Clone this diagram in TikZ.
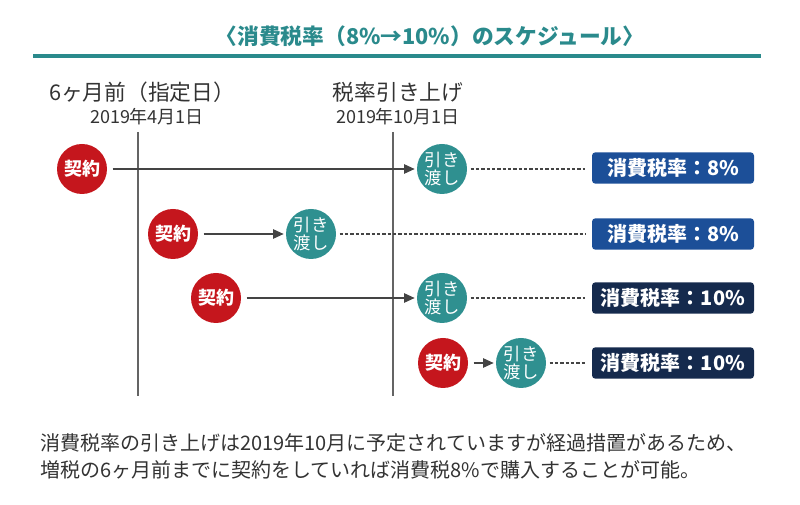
\documentclass[tikz,border=0pt]{standalone}
\usepackage{fontspec}
\setmainfont{Noto Sans CJK JP}
\usetikzlibrary{arrows.meta}
\definecolor{ctitle}{RGB}{42,138,140}
\definecolor{cteal}{RGB}{47,144,144}
\definecolor{cred}{RGB}{197,22,29}
\definecolor{cblue}{RGB}{28,79,152}
\definecolor{cnavy}{RGB}{21,42,77}
\definecolor{ctext}{RGB}{51,51,51}
\definecolor{cline}{RGB}{100,100,100}
\definecolor{carrow}{RGB}{68,68,68}
\begin{document}
\begin{tikzpicture}[x=0.75pt,y=-0.75pt,
  keiyaku/.style={circle,fill=cred,minimum size=37.5pt,inner sep=0,text=white,font=\bfseries\fontsize{13.5}{14}\selectfont},
  hiki/.style={circle,fill=cteal,minimum size=37.5pt,inner sep=0,text=white,align=center,font=\fontsize{13}{14}\selectfont},
  rate/.style={rounded corners=2.5pt,minimum width=121.5pt,minimum height=23.5pt,inner sep=0,text=white,font=\bfseries\fontsize{15}{16}\selectfont},
  arr/.style={-{Triangle[length=8pt,width=7pt]},draw=carrow,line width=1.1pt,shorten <=4pt,shorten >=1.5pt},
  dotline/.style={draw=carrow,dash pattern=on 2.5pt off 1.5pt,line width=0.8pt,shorten <=2.5pt,shorten >=5pt},
  vline/.style={draw=cline,line width=1pt},
  head/.style={text=ctext,inner sep=0,font=\fontsize{16.3}{18}\selectfont},
  date/.style={text=ctext,inner sep=0,font=\fontsize{13.5}{15}\selectfont},
  body/.style={text=ctext,inner sep=0,anchor=west,font=\fontsize{15}{17}\selectfont}]
\useasboundingbox (0,0) rectangle (800,505);
% title
\node[text=ctitle,inner sep=0,font=\bfseries\fontsize{16.3}{18}\selectfont] (title) at (430,36) {〈消費税率（8\%→10\%）のスケジュール〉};
\coordinate (tl) at (33,56);
\coordinate (tr) at (761,56);
\draw[ctitle,line width=2.5pt] (tl) -- (tr);
% headers
\node[head] (h6) at (142,92) {6ヶ月前（指定日）};
\node[date] (d6) at (147,117) {2019年4月1日};
\node[head] (hup) at (398,92) {税率引き上げ};
\node[date] (dup) at (398,117) {2019年10月1日};
% vertical lines
\coordinate (va) at (138,132);
\coordinate (vb) at (138,396);
\coordinate (wa) at (393,132);
\coordinate (wb) at (393,396);
\draw[vline] (va) -- (vb);
\draw[vline] (wa) -- (wb);
% row 1
\node[keiyaku] (k1) at (82,169) {契約};
\node[hiki] (h1) at (442,169) {引き\\渡し};
\node[rate,fill=cblue] (r1) at (673,168) {消費税率：8\%};
\draw[arr] (k1) -- (h1);
\draw[dotline] (h1) -- (h1 -| r1.west);
% row 2
\node[keiyaku] (k2) at (173,234) {契約};
\node[hiki] (h2) at (311,234) {引き\\渡し};
\node[rate,fill=cblue] (r2) at (673,234) {消費税率：8\%};
\draw[arr] (k2) -- (h2);
\draw[dotline] (h2) -- (h2 -| r2.west);
% row 3
\node[keiyaku] (k3) at (216,298) {契約};
\node[hiki] (h3) at (442,298) {引き\\渡し};
\node[rate,fill=cnavy] (r3) at (673,298) {消費税率：10\%};
\draw[arr] (k3) -- (h3);
\draw[dotline] (h3) -- (h3 -| r3.west);
% row 4
\node[keiyaku] (k4) at (443,363) {契約};
\node[hiki] (h4) at (521,363) {引き\\渡し};
\node[rate,fill=cnavy] (r4) at (673,363) {消費税率：10\%};
\draw[arr] (k4) -- (h4);
\draw[dotline] (h4) -- (h4 -| r4.west);
% body text
\node[body] (b1) at (40,443) {消費税率の引き上げは2019年10月に予定されていますが経過措置があるため、};
\node[body] (b2) at (40,470) {増税の6ヶ月前までに契約をしていれば消費税8\%で購入することが可能。};
\end{tikzpicture}
\end{document}
